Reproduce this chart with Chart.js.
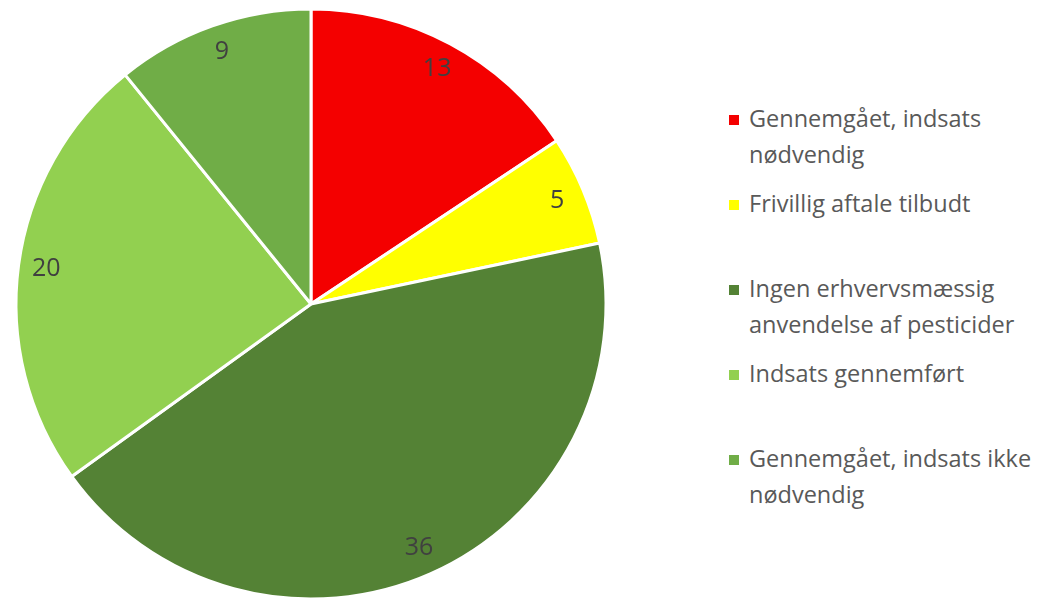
<!DOCTYPE html>
<html>
<head>
<meta charset="utf-8">
<script src="https://cdn.jsdelivr.net/npm/chart.js@4.4.1/dist/chart.umd.min.js"></script>
<style>
  html, body { margin: 0; padding: 0; background: #fff; width: 1043px; height: 600px; overflow: hidden; }
  #wrap { position: absolute; left: 0; top: 0; width: 622px; height: 608px; }
  #legend { position: absolute; left: 729px; top: 101px; width: 314px; font-family: "Open Sans", Lato, sans-serif; font-size: 23.5px; color: #595959; }
  .item { position: relative; height: 85px; line-height: 35.5px; padding-left: 20px; }
  .item .box { position: absolute; left: 0; top: 14px; width: 10px; height: 10px; }
</style>
</head>
<body>
<div id="wrap"><canvas id="c"></canvas></div>
<div id="legend"></div>
<script>
const categories = [
  "Gennemgået, indsats nødvendig",
  "Frivillig aftale tilbudt",
  "Ingen erhvervsmæssig anvendelse af pesticider",
  "Indsats gennemført",
  "Gennemgået, indsats ikke nødvendig"
];
const values = [13, 5, 36, 20, 9];
const colors = ["#F40000", "#FFFF00", "#548235", "#92D050", "#70AD47"];

const labelPlugin = {
  id: 'sliceLabels',
  afterDatasetsDraw(chart) {
    const ctx = chart.ctx;
    const meta = chart.getDatasetMeta(0);
    ctx.save();
    ctx.font = '25px "Open Sans", Lato, sans-serif';
    ctx.fillStyle = '#404040';
    ctx.textAlign = 'center';
    ctx.textBaseline = 'middle';
    meta.data.forEach((arc, i) => {
      const p = arc.getProps(['x', 'y', 'startAngle', 'endAngle', 'outerRadius'], true);
      const mid = (p.startAngle + p.endAngle) / 2;
      const r = p.outerRadius * 0.905;
      ctx.fillText(String(chart.data.datasets[0].data[i]), p.x + Math.cos(mid) * r, p.y + Math.sin(mid) * r);
    });
    ctx.restore();
  }
};

new Chart(document.getElementById('c'), {
  type: 'pie',
  data: {
    labels: categories,
    datasets: [{
      data: values,
      backgroundColor: colors,
      borderColor: '#ffffff',
      borderWidth: 3,
      radius: 295
    }]
  },
  options: {
    responsive: true,
    maintainAspectRatio: false,
    animation: false,
    layout: { padding: 0 },
    plugins: { legend: { display: false }, tooltip: { enabled: false } }
  },
  plugins: [labelPlugin]
});

const legend = document.getElementById('legend');
categories.forEach((c, i) => {
  const d = document.createElement('div');
  d.className = 'item';
  const b = document.createElement('span');
  b.className = 'box';
  b.style.background = colors[i];
  d.appendChild(b);
  d.appendChild(document.createTextNode(c));
  legend.appendChild(d);
});
</script>
</body>
</html>
